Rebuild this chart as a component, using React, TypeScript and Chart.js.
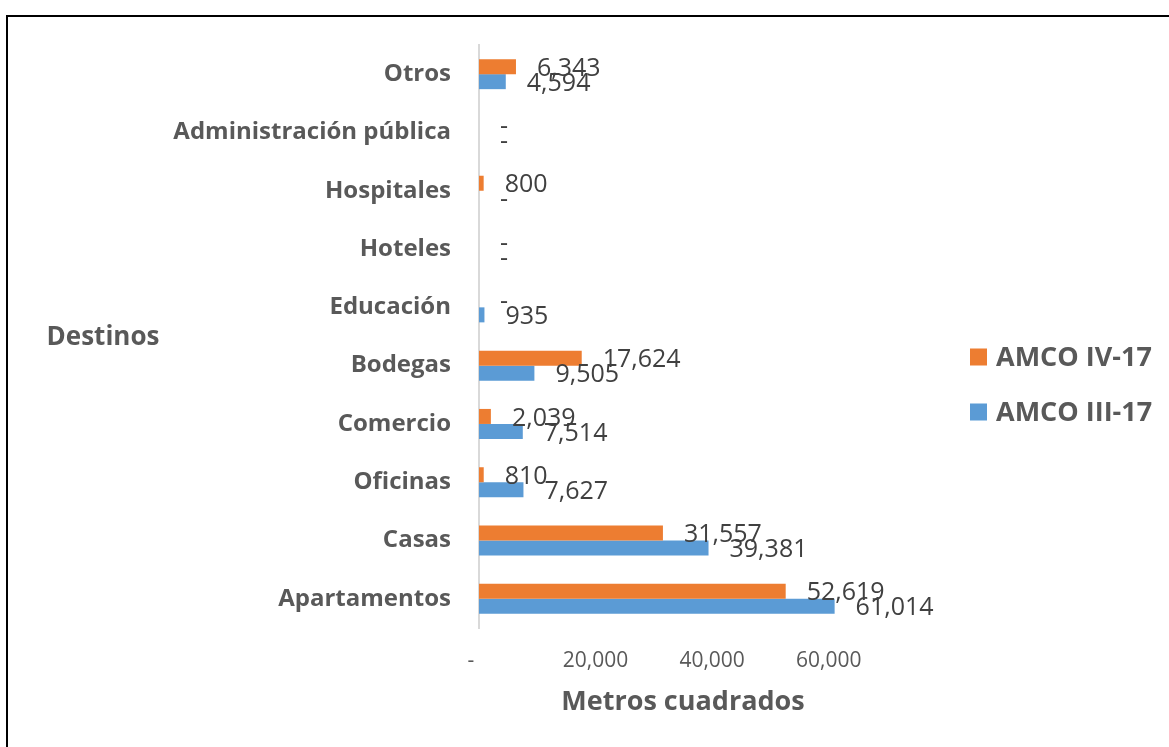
import React, { useEffect, useRef } from 'react';
import { Chart, registerables } from 'chart.js';

Chart.register(...registerables);

const categories = [
  'Otros',
  'Administración pública',
  'Hospitales',
  'Hoteles',
  'Educación',
  'Bodegas',
  'Comercio',
  'Oficinas',
  'Casas',
  'Apartamentos',
];
const seriesNames = ['AMCO IV-17', 'AMCO III-17'];
const amcoIV = [6343, 0, 800, 0, 0, 17624, 2039, 810, 31557, 52619];
const amcoIII = [4594, 0, 0, 0, 935, 9505, 7514, 7627, 39381, 61014];
const xTickValues = [0, 20000, 40000, 60000];
const xMax = 70000;
const seriesColors = ['#ED7D31', '#5B9BD5'];
const yTitle = 'Destinos';
const xTitle = 'Metros cuadrados';

const FONT = '"Open Sans", "Noto Sans", sans-serif';

const fmt = (v: number) => (v === 0 ? '-' : v.toLocaleString('en-US'));

const decorPlugin = {
  id: 'decor',
  beforeDraw(chart: any) {
    const ctx = chart.ctx;
    ctx.save();
    ctx.fillStyle = '#ffffff';
    ctx.fillRect(0, 0, chart.width, chart.height);
    ctx.fillStyle = '#000000';
    ctx.fillRect(6, 15, chart.width, 2);
    ctx.fillRect(6, 15, 2, chart.height);
    ctx.restore();
  },
  afterDatasetsDraw(chart: any) {
    const ctx = chart.ctx;
    ctx.save();
    ctx.font = `25px ${FONT}`;
    ctx.fillStyle = '#404040';
    ctx.textAlign = 'left';
    ctx.textBaseline = 'middle';
    chart.data.datasets.forEach((ds: any, di: number) => {
      const meta = chart.getDatasetMeta(di);
      meta.data.forEach((el: any, i: number) => {
        ctx.fillText(fmt(ds.data[i]), el.x + 21, el.y + 2);
      });
    });
    ctx.restore();
  },
  afterDraw(chart: any) {
    const ctx = chart.ctx;
    const ca = chart.chartArea;
    ctx.save();
    ctx.fillStyle = '#595959';
    ctx.textBaseline = 'middle';
    ctx.textAlign = 'center';
    ctx.font = `bold 26px ${FONT}`;
    ctx.fillText(yTitle, 103, (ca.top + ca.bottom) / 2 + 1);
    ctx.font = `bold 27px ${FONT}`;
    ctx.fillText(xTitle, (ca.left + ca.right) / 2, 702);
    // legend
    ctx.textAlign = 'left';
    ctx.font = `bold 27px ${FONT}`;
    const legendY = [357, 412];
    seriesNames.forEach((name, i) => {
      ctx.fillStyle = seriesColors[i];
      ctx.fillRect(970, legendY[i] - 8.5, 17, 17);
      ctx.fillStyle = '#595959';
      ctx.fillText(name, 996, legendY[i] + 1);
    });
    ctx.restore();
  },
};

export default function App() {
  const ref = useRef<HTMLCanvasElement | null>(null);
  useEffect(() => {
    if (!ref.current) return;
    const chart = new Chart(ref.current, {
      type: 'bar',
      data: {
        labels: categories,
        datasets: [
          {
            label: seriesNames[0],
            data: amcoIV,
            backgroundColor: seriesColors[0],
            barPercentage: 1,
            categoryPercentage: 0.515,
          },
          {
            label: seriesNames[1],
            data: amcoIII,
            backgroundColor: seriesColors[1],
            barPercentage: 1,
            categoryPercentage: 0.515,
          },
        ],
      },
      options: {
        indexAxis: 'y',
        animation: false,
        responsive: true,
        maintainAspectRatio: false,
        layout: { padding: { top: 45, right: 282, bottom: 0, left: 0 } },
        plugins: {
          legend: { display: false },
          tooltip: { enabled: false },
        },
        scales: {
          x: {
            min: 0,
            max: xMax,
            grid: { display: false, drawTicks: false },
            border: { display: false },
            afterFit(scale: any) {
              scale.height = 747 - 628;
            },
            afterBuildTicks(scale: any) {
              scale.ticks = xTickValues.map((v) => ({ value: v }));
            },
            ticks: {
              padding: 20,
              color: '#595959',
              font: { family: FONT, size: 21 },
              callback: (v: any) => (Number(v) === 0 ? '-   ' : Number(v).toLocaleString('en-US')),
            },
          },
          y: {
            grid: { display: false, drawTicks: false },
            border: { display: true, color: '#d9d9d9', width: 2 },
            afterFit(scale: any) {
              scale.width = 479;
            },
            ticks: {
              padding: 28,
              color: '#595959',
              font: { family: FONT, size: 24, weight: 'bold' },
            },
          },
        },
      },
      plugins: [decorPlugin],
    } as any);
    return () => chart.destroy();
  }, []);
  return (
    <div style={{ position: 'fixed', left: 0, top: 0, width: 1169, height: 747 }}>
      <canvas ref={ref} />
    </div>
  );
}
